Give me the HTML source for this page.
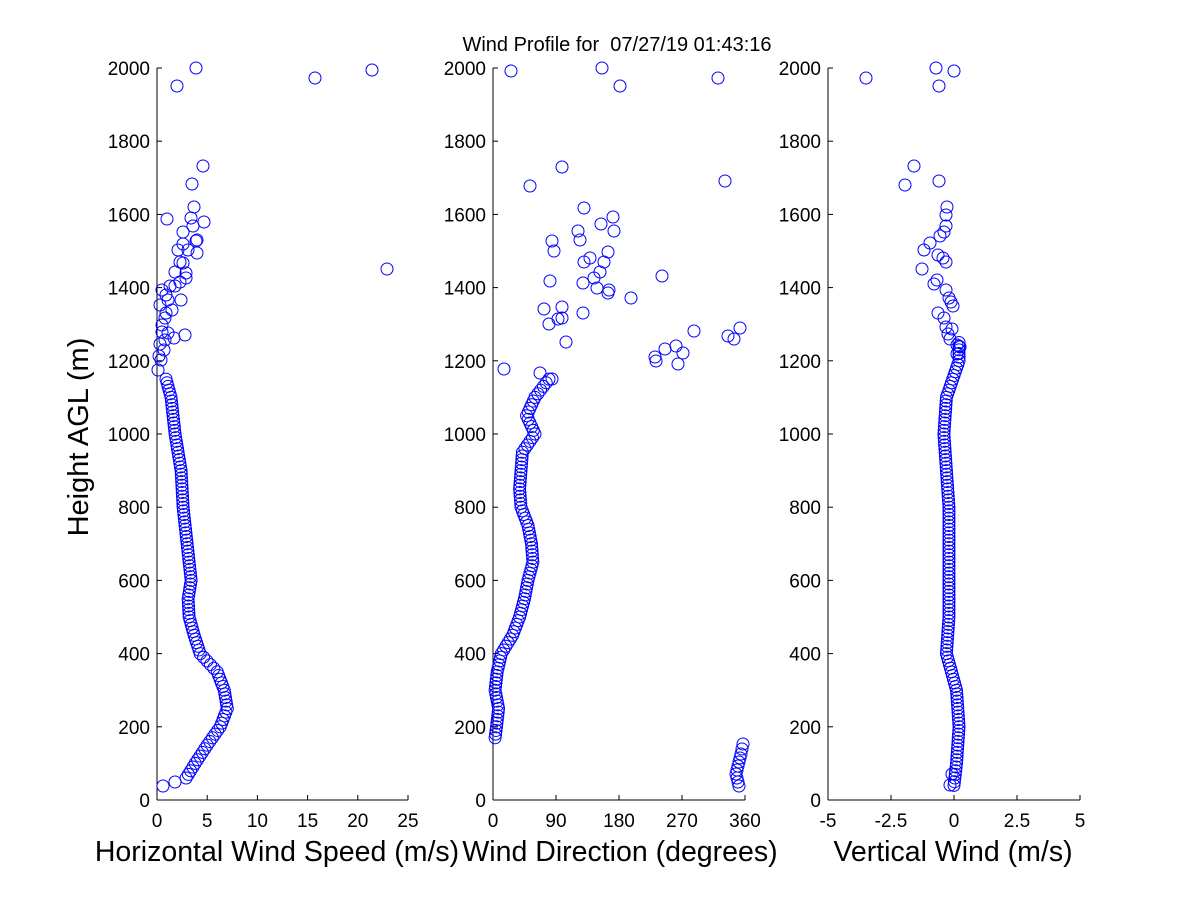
<!DOCTYPE html>
<html><head><meta charset="utf-8"><style>
body{margin:0;background:#fff}
svg{display:block;font-family:"Liberation Sans",sans-serif}
</style></head><body>
<svg id="s" width="1200" height="900" xmlns="http://www.w3.org/2000/svg">
<rect width="1200" height="900" fill="#fff"/>
<text x="617" y="51" font-size="20" text-anchor="middle" xml:space="preserve" style="white-space:pre">Wind Profile for  07/27/19 01:43:16</text>
<text transform="translate(88,437) rotate(-90)" font-size="29" text-anchor="middle">Height AGL (m)</text>
<text x="277" y="861" font-size="28.5" text-anchor="middle">Horizontal Wind Speed (m/s)</text>
<text x="620" y="861" font-size="28.5" text-anchor="middle">Wind Direction (degrees)</text>
<text x="953" y="861" font-size="28.5" text-anchor="middle">Vertical Wind (m/s)</text>
<g id="ax" stroke="#000" stroke-width="1" fill="none"></g>
<g id="tx" font-size="19" fill="#000"></g>
<g id="pts" fill="none" stroke="#00f" stroke-width="1"></g>
</svg>
<script>
const NS="http://www.w3.org/2000/svg";
const ax=document.getElementById('ax'),tx=document.getElementById('tx'),pts=document.getElementById('pts');
function el(p,t,a,txt){const e=document.createElementNS(NS,t);for(const k in a)e.setAttribute(k,a[k]);if(txt!==undefined)e.textContent=txt;p.appendChild(e);return e;}
const Y=h=>800-h*0.366;
const panels=[[157,408,[0,5,10,15,20,25],0,25],[493,745,[0,90,180,270,360],0,360],[828,1080,[-5,-2.5,0,2.5,5],-5,5]];
panels.forEach(([x0,x1,ticks,a,b])=>{
 el(ax,'line',{x1:x0,y1:68,x2:x0,y2:800});
 el(ax,'line',{x1:x0,y1:800,x2:x1,y2:800});
 for(let h=0;h<=2000;h+=200){const y=Y(h);el(ax,'line',{x1:x0,y1:y,x2:x0+5,y2:y});
  el(tx,'text',{x:x0-7,y:y+7,'text-anchor':'end'},String(h));}
 ticks.forEach(t=>{const x=x0+(t-a)/(b-a)*(x1-x0);el(ax,'line',{x1:x,y1:800,x2:x,y2:795});
  el(tx,'text',{x:x,y:827,'text-anchor':'middle'},String(t));});
});
function interp(tab,h){for(let i=0;i<tab.length-1;i++){if(h>=tab[i][0]&&h<=tab[i+1][0]){const f=(h-tab[i][0])/(tab[i+1][0]-tab[i][0]);return tab[i][1]+f*(tab[i+1][1]-tab[i][1]);}}return tab[tab.length-1][1];}
function c(x,y){el(pts,'circle',{cx:x,cy:y,r:6});}
const sp=[[60,2.9],[100,3.8],[150,5],[200,6.3],[250,7.0],[300,6.7],[350,6],[400,4.3],[450,3.7],[500,3.2],[550,3.1],[600,3.4],[700,3.0],[800,2.6],[900,2.4],[1000,1.8],[1100,1.4],[1150,0.9]];
const dr=[[170,3],[200,5],[250,8],[300,3],[350,6],[400,12],[450,28],[500,38],[550,45],[600,50],[650,57],[700,55],[750,50],[800,40],[850,38],[900,40],[950,42],[1000,60],[1050,48],[1100,60],[1150,80]];
const vw=[[40,0],[100,0.1],[200,0.2],[300,0.1],[350,-0.1],[400,-0.3],[500,-0.2],[600,-0.2],[800,-0.2],[900,-0.3],[1000,-0.4],[1100,-0.3],[1200,0.2]];
for(let h=60;h<=1150;h+=10){c(157+interp(sp,h)*10.04,Y(h));}
for(let h=170;h<=1150;h+=10){c(493+interp(dr,h)*0.7,Y(h));}
for(let h=40;h<=1250;h+=10){c(954+interp(vw,h)*25.2,Y(h));}
[[163,786],[175,782],[158,370],[161,360],[164,350],[159,356],[165,340],[168,333],[162,325],[165,318],[172,310],[160,305],[168,300],[166,295],[162,290],[170,286],[180,282],[185,335],[166,313],[175,272],[178,250],[188,250],[183,232],[193,226],[180,262],[186,273],[197,253],[191,218],[197,240],[175,286],[183,244],[192,184],[203,166],[196,68],[177,86],[315,78],[372,70],[387,269],[167,219],[183,263],[186,278],[181,300],[160,344],[162,332],[174,338],[194,207],[204,222],[196,241]].forEach(p=>c(p[0],p[1]));
[[511,71],[602,68],[620,86],[718,78],[504,369],[530,186],[562,167],[725,181],[584,208],[578,231],[580,240],[613,217],[552,241],[554,251],[601,224],[614,231],[608,252],[604,262],[584,262],[590,258],[600,272],[594,278],[550,281],[583,283],[597,288],[631,298],[608,293],[609,290],[662,276],[583,313],[544,309],[562,307],[562,318],[549,324],[558,319],[566,342],[694,331],[740,328],[728,336],[734,339],[655,357],[656,361],[665,349],[676,346],[683,353],[678,364],[540,373],[552,379],
 [743,744],[742,749],[741,754],[740,758],[739,762],[738,766],[737,770],[736,774],[737,778],[738,782],[739,786]].forEach(p=>c(p[0],p[1]));
[[866,78],[936,68],[954,71],[939,86],[914,166],[905,185],[939,181],[947,207],[946,215],[946,226],[944,232],[940,236],[930,243],[924,250],[938,255],[922,269],[946,262],[943,258],[934,284],[937,280],[946,290],[949,298],[951,302],[953,306],[938,313],[944,318],[946,327],[952,329],[948,334],[950,339],[957,345],[960,347],[957,354],[950,785],[952,774]].forEach(p=>c(p[0],p[1]));
</script>
</body></html>
